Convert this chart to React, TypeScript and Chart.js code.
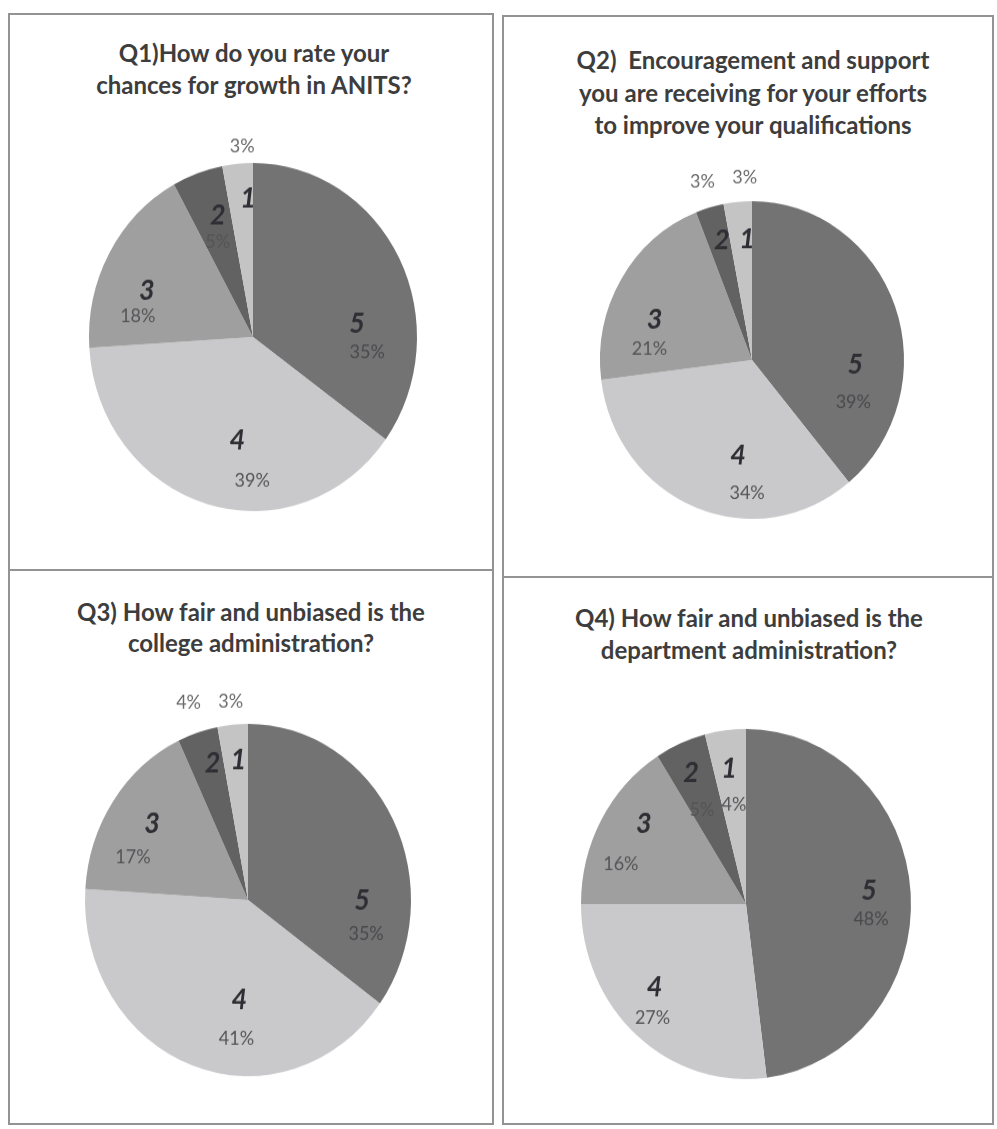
import React, { useEffect, useRef } from 'react';
import { Chart, registerables } from 'chart.js';

Chart.register(...registerables);

// ---- data ----
const categories = ['5', '4', '3', '2', '1'];
const q1Values = [35, 39, 18, 5, 3];
const q2Values = [39, 34, 21, 3, 3];
const q3Values = [35, 41, 17, 4, 3];
const q4Values = [48, 27, 16, 5, 4];

const q1Title = ['Q1)How do you rate your', 'chances for growth in ANITS?'];
const q2Title = ['Q2)  Encouragement and support', 'you are receiving for your efforts', 'to improve your qualifications'];
const q3Title = ['Q3) How fair and unbiased is the', 'college administration?'];
const q4Title = ['Q4) How fair and unbiased is the', 'department administration?'];

// ---- styles ----
const sliceColors = ['#737373', '#c9c9cb', '#9f9f9f', '#626262', '#c4c4c4'];

type PanelCfg = {
  values: number[];
  title: string[];
  titleX: number;
  titleY: number[];
  cx: number;
  cy: number;
  R: number;
  k: number;
  numShift: number[];
  numR: number[];
  pctOut: (number[] | null)[];
  pctOff: number[][];
};

const panels: PanelCfg[] = [
  {
    values: q1Values, title: q1Title, titleX: 254, titleY: [53, 85],
    cx: 253, cy: 337, R: 164, k: 1.06,
    numShift: [20, -7, -6.5, 2.7, 3.2],
    numR: [0.64, 0.6, 0.7, 0.73, 0.8],
    pctOut: [null, null, null, null, [2, 1.1]],
    pctOff: [[10, 29], [15, 40], [-9, 25], [0, 26], [0, 0]],
  },
  {
    values: q2Values, title: q2Title, titleX: 753, titleY: [60, 93, 125],
    cx: 752, cy: 360, R: 152, k: 1.045,
    numShift: [22, -13, -9, 1.5, 3],
    numR: [0.68, 0.61, 0.69, 0.78, 0.76],
    pctOut: [null, null, null, [0, 1.17], [3, 1.15]],
    pctOff: [[-2, 38], [9, 37], [-5, 29], [0, 0], [0, 0]],
  },
  {
    values: q3Values, title: q3Title, titleX: 251, titleY: [612, 643],
    cx: 248, cy: 900, R: 163, k: 1.08,
    numShift: [27, -14.5, 2, 2.4, 1.2],
    numR: [0.7, 0.57, 0.73, 0.81, 0.8],
    pctOut: [null, null, null, [0, 1.18], [0, 1.13]],
    pctOff: [[4, 34], [-3, 39], [-19, 33], [0, 0], [0, 0]],
  },
  {
    values: q4Values, title: q4Title, titleX: 749, titleY: [618, 650],
    cx: 746, cy: 904, R: 165, k: 1.06,
    numShift: [-2.5, 8, 7.7, -0.6, -0.4],
    numR: [0.75, 0.73, 0.77, 0.82, 0.78],
    pctOut: [null, null, null, null, null],
    pctOff: [[2, 29], [-2, 31], [-23, 40], [11, 37], [5, 36]],
  },
];

const PAD = 48;

function makeLabelPlugin(cfg: PanelCfg) {
  return {
    id: 'sliceLabels',
    afterDatasetsDraw(chart: any) {
      const ctx = chart.ctx as CanvasRenderingContext2D;
      const meta = chart.getDatasetMeta(0);
      const data = chart.data.datasets[0].data as number[];
      const labels = chart.data.labels as string[];
      meta.data.forEach((arc: any, i: number) => {
        const p = arc.getProps(['x', 'y', 'startAngle', 'endAngle', 'outerRadius'], true);
        const mid = (p.startAngle + p.endAngle) / 2;
        const a = mid + (cfg.numShift[i] * Math.PI) / 180;
        const r = p.outerRadius * cfg.numR[i];
        const nx = p.x + Math.cos(a) * r;
        const ny = p.y + Math.sin(a) * r;
        ctx.save();
        ctx.textAlign = 'center';
        ctx.textBaseline = 'middle';
        ctx.font = 'italic bold 27px Lato';
        ctx.fillStyle = '#2e2e34';
        ctx.fillText(String(labels[i]), nx, ny);
        ctx.font = '18px Lato';
        ctx.fillStyle = i === 0 ? '#4a4a4e' : '#555558';
        const txt = data[i] + '%';
        const out = cfg.pctOut[i];
        if (out) {
          const b = mid + (out[0] * Math.PI) / 180;
          const rr = p.outerRadius * out[1];
          ctx.fillStyle = '#6a6a6a';
          ctx.fillText(txt, p.x + Math.cos(b) * rr, p.y + Math.sin(b) * rr);
        } else {
          const off = cfg.pctOff[i];
          ctx.fillText(txt, nx + off[0], ny + off[1] / cfg.k);
        }
        ctx.restore();
      });
    },
  };
}

function PiePanel({ cfg }: { cfg: PanelCfg }) {
  const ref = useRef<HTMLCanvasElement | null>(null);
  const W = Math.round(2 * (cfg.R + PAD));
  const H = W;
  useEffect(() => {
    if (!ref.current) return;
    const chart = new Chart(ref.current, {
      type: 'pie',
      data: {
        labels: categories,
        datasets: [
          {
            data: cfg.values,
            backgroundColor: sliceColors,
            borderWidth: 0,
          },
        ],
      },
      options: {
        animation: false,
        responsive: false,
        maintainAspectRatio: false,
        layout: { padding: PAD },
        plugins: {
          legend: { display: false },
          tooltip: { enabled: false },
          title: { display: false },
        },
      },
      plugins: [makeLabelPlugin(cfg)],
    });
    return () => chart.destroy();
  }, [cfg]);
  return (
    <canvas
      ref={ref}
      width={W}
      height={H}
      style={{
        position: 'absolute',
        left: cfg.cx - W / 2,
        top: cfg.cy - (H / 2) * cfg.k,
        width: W,
        height: H * cfg.k,
      }}
    />
  );
}

function Title({ cfg }: { cfg: PanelCfg }) {
  return (
    <>
      {cfg.title.map((line, i) => (
        <div
          key={i}
          style={{
            position: 'absolute',
            left: cfg.titleX - 240,
            width: 480,
            top: cfg.titleY[i] - 16,
            height: 32,
            lineHeight: '32px',
            textAlign: 'center',
            fontFamily: 'Lato, sans-serif',
            fontWeight: 700,
            fontSize: 24,
            color: '#3d3d3d',
            whiteSpace: 'pre',
          }}
        >
          {line}
        </div>
      ))}
    </>
  );
}

const lineColor = '#939393';

function Line({ x, y, w, h }: { x: number; y: number; w: number; h: number }) {
  return <div style={{ position: 'absolute', left: x, top: y, width: w, height: h, background: lineColor }} />;
}

export default function App() {
  return (
    <div style={{ position: 'absolute', left: 0, top: 0, width: 997, height: 1129, background: '#ffffff', overflow: 'hidden' }}>
      {/* left column frame */}
      <Line x={8} y={13} w={486} h={1.5} />
      <Line x={8} y={13} w={1.5} h={1112} />
      <Line x={492} y={13} w={1.5} h={1112} />
      <Line x={8} y={569} w={486} h={1.5} />
      <Line x={8} y={1123} w={486} h={1.5} />
      {/* right column frame */}
      <Line x={502} y={15} w={491} h={1.5} />
      <Line x={502} y={15} w={1.5} h={1110} />
      <Line x={992} y={15} w={1.5} h={1110} />
      <Line x={502} y={576} w={491} h={1.5} />
      <Line x={502} y={1123} w={491} h={1.5} />
      {panels.map((p, i) => (
        <React.Fragment key={i}>
          <Title cfg={p} />
          <PiePanel cfg={p} />
        </React.Fragment>
      ))}
    </div>
  );
}
